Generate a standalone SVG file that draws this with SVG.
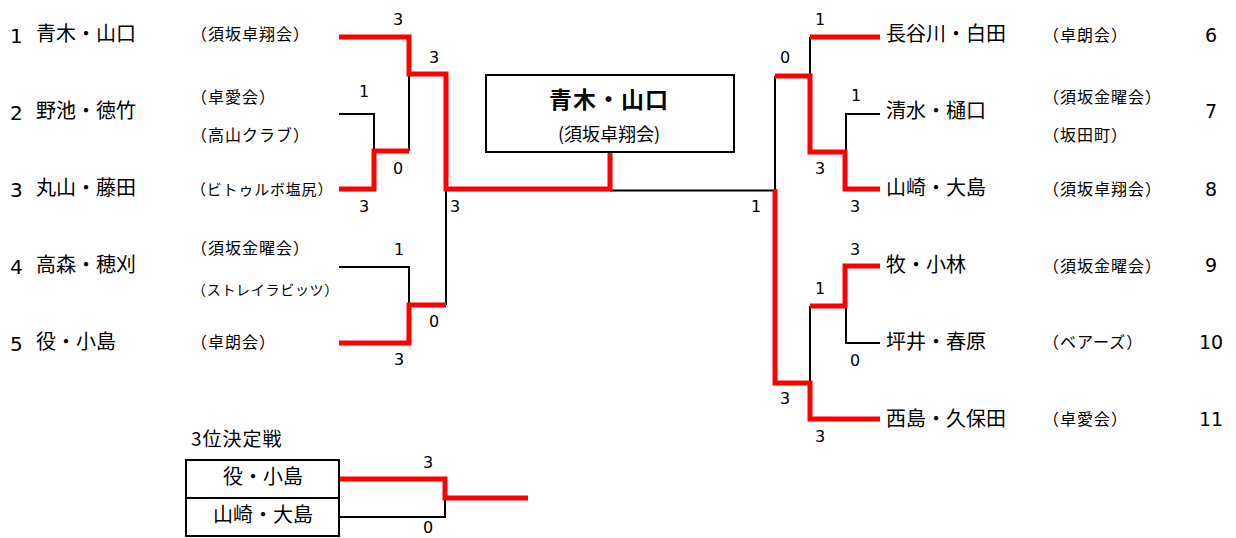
<svg xmlns="http://www.w3.org/2000/svg" width="1236" height="538" viewBox="0 0 1236 538">
<style>
.nm{font-family:"Noto Sans CJK JP","Noto Sans",sans-serif;font-size:20px;fill:#000}
.cl{font-family:"Noto Sans CJK JP","Noto Sans",sans-serif;font-size:16px;letter-spacing:1px;fill:#000}
.num{font-family:"DejaVu Sans","Noto Sans",sans-serif;font-size:20px;fill:#000}
.rk{font-family:"DejaVu Sans","Noto Sans",sans-serif;font-size:19px;fill:#000;text-anchor:middle}
.sc{font-family:"DejaVu Sans","Noto Sans",sans-serif;font-size:16px;fill:#000;text-anchor:middle}
.blk{fill:none;stroke:#000;stroke-width:2}
.red{fill:none;stroke:#FF0000;stroke-width:5;stroke-linejoin:miter}
.box{fill:#fff;stroke:#000;stroke-width:2}
</style>
<rect width="1236" height="538" fill="#fff"/>
<g id="connectors">
  <path class="blk" d="M339,114 H374 V151"/>
  <path class="blk" d="M409,151 V74"/>
  <path class="blk" d="M339,267 H409 V305"/>
  <path class="blk" d="M446,305 V189"/>
  <path class="blk" d="M610,190.5 H775 V76"/>
  <path class="blk" d="M810,76 V37"/>
  <path class="blk" d="M880,114 H846 V152"/>
  <path class="blk" d="M810,383 V306"/>
  <path class="blk" d="M846,306 V343 H880"/>
  <path class="blk" d="M339,517 H445 V498"/>
  <path class="red" d="M339,37 H409 V74 H446 V189 H610 V152"/>
  <path class="red" d="M339,189 H374 V151 H409"/>
  <path class="red" d="M339,343 H409 V305 H446"/>
  <path class="red" d="M775,76 H810 V152 H845 V189 H880"/>
  <path class="red" d="M810,37 H880"/>
  <path class="red" d="M775,189 V383 H810 V419 H880"/>
  <path class="red" d="M810,306 H845 V266 H880"/>
  <path class="red" d="M339,479 H445 V498 H528"/>
</g>
<g id="scores">
  <text class="sc" x="398" y="25">3</text>
  <text class="sc" x="434" y="63">3</text>
  <text class="sc" x="364" y="97">1</text>
  <text class="sc" x="398" y="174">0</text>
  <text class="sc" x="364" y="212">3</text>
  <text class="sc" x="455" y="212">3</text>
  <text class="sc" x="399" y="255">1</text>
  <text class="sc" x="434" y="327">0</text>
  <text class="sc" x="399" y="365">3</text>
  <text class="sc" x="820" y="25">1</text>
  <text class="sc" x="785" y="63">0</text>
  <text class="sc" x="856" y="101">1</text>
  <text class="sc" x="820" y="174">3</text>
  <text class="sc" x="855" y="212">3</text>
  <text class="sc" x="756" y="212">1</text>
  <text class="sc" x="855" y="255">3</text>
  <text class="sc" x="820" y="294">1</text>
  <text class="sc" x="855" y="366">0</text>
  <text class="sc" x="785" y="404">3</text>
  <text class="sc" x="820" y="442">3</text>
  <text class="sc" x="428" y="468">3</text>
  <text class="sc" x="428" y="533">0</text>
</g>
<g id="p1"><text class="num" x="10" y="42.5">1</text><text class="nm" x="36" y="41">青木・山口</text><text class="cl" x="191" y="40">（須坂卓翔会）</text></g>
<g id="p2"><text class="num" x="10" y="119.5">2</text><text class="nm" x="36" y="118">野池・徳竹</text><text class="cl" x="191" y="102.5">（卓愛会）</text><text class="cl" x="191" y="141">（高山クラブ）</text></g>
<g id="p3"><text class="num" x="10" y="196.5">3</text><text class="nm" x="36" y="195">丸山・藤田</text><text class="cl" x="191" y="194.5" style="font-size:15px;letter-spacing:0.8px">（ビトゥルボ塩尻）</text></g>
<g id="p4"><text class="num" x="10" y="273.5">4</text><text class="nm" x="36" y="272">高森・穂刈</text><text class="cl" x="191" y="253.5">（須坂金曜会）</text><text class="cl" x="192" y="295" style="font-size:14px;letter-spacing:0.7px">（ストレイラビッツ）</text></g>
<g id="p5"><text class="num" x="10" y="350.5">5</text><text class="nm" x="36" y="349">役・小島</text><text class="cl" x="191" y="347.5">（卓朗会）</text></g>
<g id="p6"><text class="nm" x="886" y="41">長谷川・白田</text><text class="cl" x="1043" y="41">（卓朗会）</text><text class="rk" x="1211" y="42">6</text></g>
<g id="p7"><text class="nm" x="886" y="118">清水・樋口</text><text class="cl" x="1043" y="102.5">（須坂金曜会）</text><text class="cl" x="1043" y="141">（坂田町）</text><text class="rk" x="1211" y="118">7</text></g>
<g id="p8"><text class="nm" x="886" y="195">山崎・大島</text><text class="cl" x="1043" y="194.5">（須坂卓翔会）</text><text class="rk" x="1211" y="196">8</text></g>
<g id="p9"><text class="nm" x="886" y="272">牧・小林</text><text class="cl" x="1043" y="271.5">（須坂金曜会）</text><text class="rk" x="1211" y="272">9</text></g>
<g id="p10"><text class="nm" x="886" y="349">坪井・春原</text><text class="cl" x="1043" y="347.5">（ベアーズ）</text><text class="rk" x="1211" y="349">10</text></g>
<g id="p11"><text class="nm" x="886" y="426">西島・久保田</text><text class="cl" x="1043" y="424.5">（卓愛会）</text><text class="rk" x="1211" y="426">11</text></g>
<g id="champion">
  <rect class="box" x="486" y="75" width="248" height="77"/>
  <text class="nm" x="609" y="108" text-anchor="middle" style="font-size:23px;font-weight:bold;letter-spacing:1px">青木・山口</text>
  <text class="nm" x="609" y="141" text-anchor="middle" style="font-size:18px">(須坂卓翔会)</text>
</g>
<g id="third-place">
  <text class="nm" x="191" y="446" style="font-size:19px;letter-spacing:1px">3位決定戦</text>
  <rect class="box" x="186" y="460" width="153" height="38"/>
  <rect class="box" x="186" y="498" width="153" height="38"/>
  <text class="nm" x="263" y="484" text-anchor="middle">役・小島</text>
  <text class="nm" x="263" y="522" text-anchor="middle">山崎・大島</text>
</g>
</svg>
